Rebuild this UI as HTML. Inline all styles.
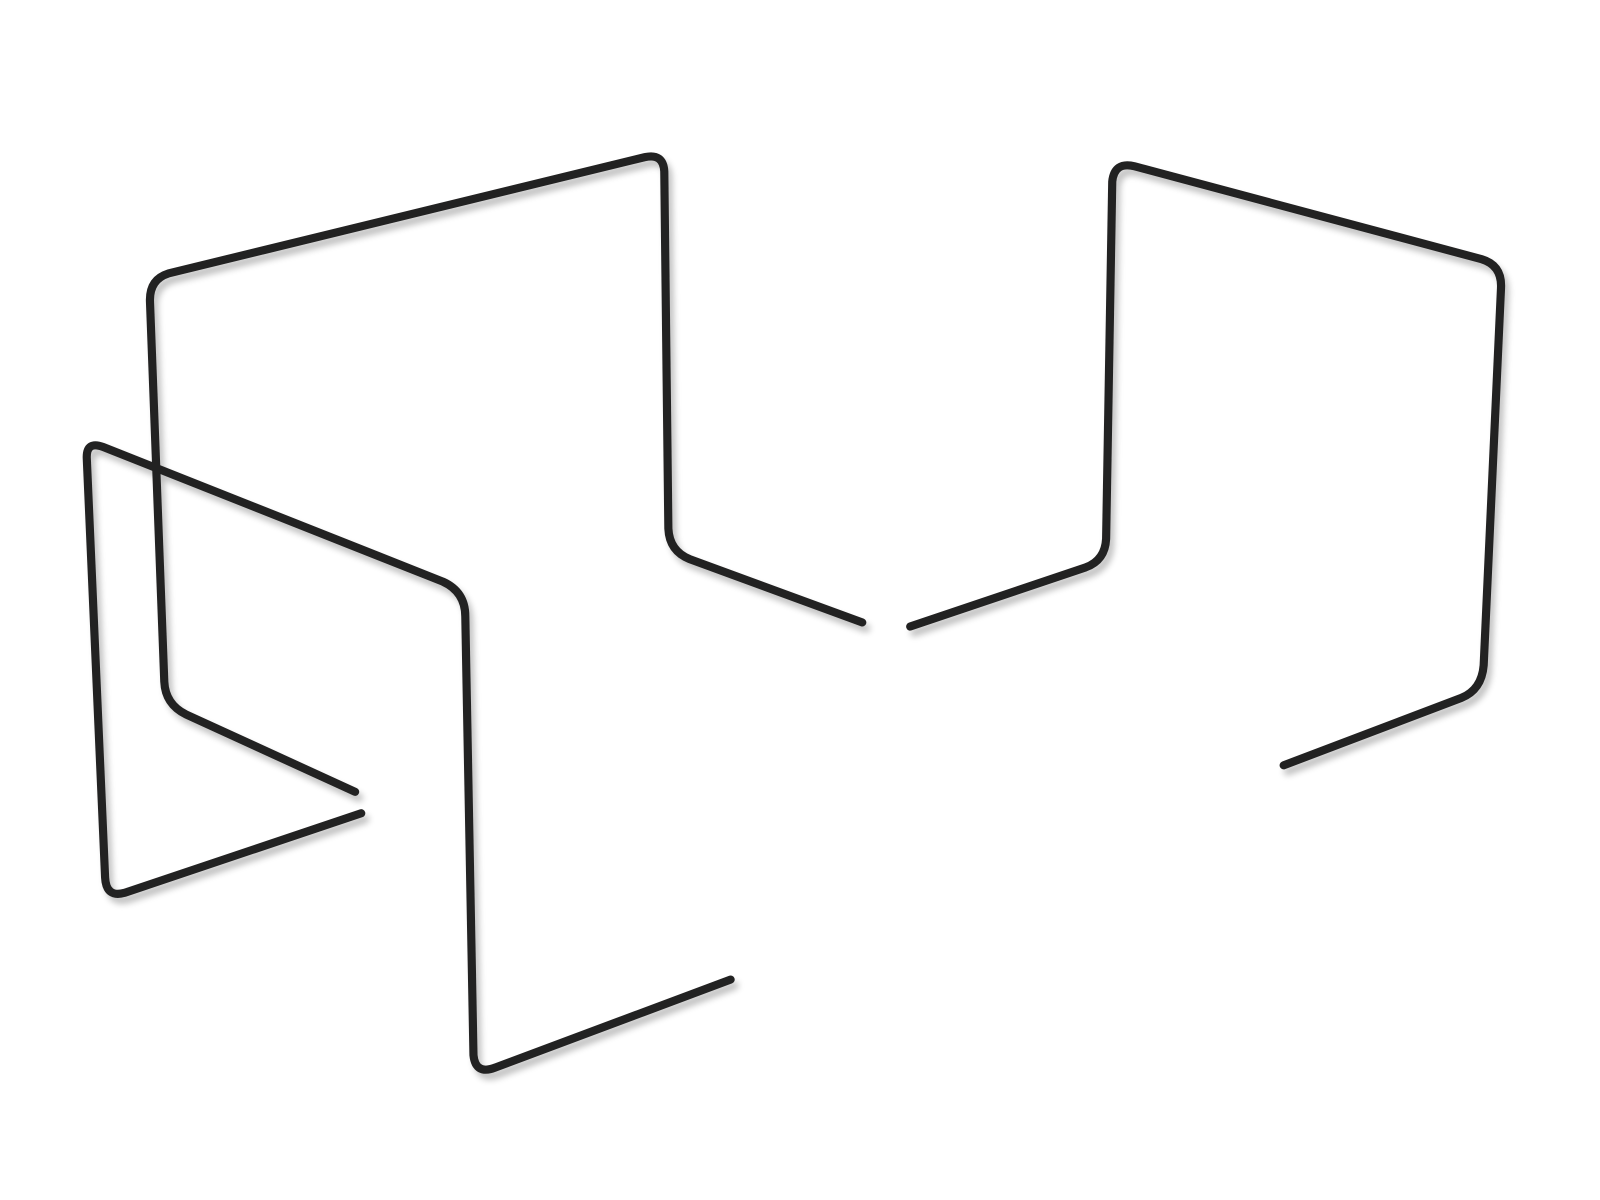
<!DOCTYPE html>
<html><head><meta charset="utf-8"><style>
html,body{margin:0;padding:0;background:#fff;}
svg{display:block;}
</style></head><body>
<svg width="1600" height="1200" viewBox="0 0 1568 1176" xmlns="http://www.w3.org/2000/svg">
<defs>
<filter id="sh" x="-10%" y="-10%" width="120%" height="120%">
<feGaussianBlur in="SourceAlpha" stdDeviation="3"/>
<feOffset dx="4" dy="6"/>
<feComponentTransfer><feFuncA type="linear" slope="0.25"/></feComponentTransfer>
<feMerge><feMergeNode/><feMergeNode in="SourceGraphic"/></feMerge>
</filter>
</defs>
<g fill="none" stroke="#242222" stroke-width="8" stroke-linecap="round" stroke-linejoin="round" filter="url(#sh)">
<path d="M845,610 L676,548 Q656,540 655,518 L651,168 Q650,150 632,154 L165,268 Q146,274 147,296 L161,668 Q162,690 182,700 L348,776"/>
<path d="M892,614 L1064,556 Q1083,549 1084,528 L1090,178 Q1092,158 1112,163 L1452,254 Q1472,260 1471,282 L1454,652 Q1452,676 1432,684 L1258,750"/>
<path d="M354,797 L122,875 Q104,880 103,860 L85,448 Q85,432 101,438 L434,570 Q456,580 456,604 L464,1034 Q466,1054 486,1046 L716,960"/>
</g>
</svg>
</body></html>
